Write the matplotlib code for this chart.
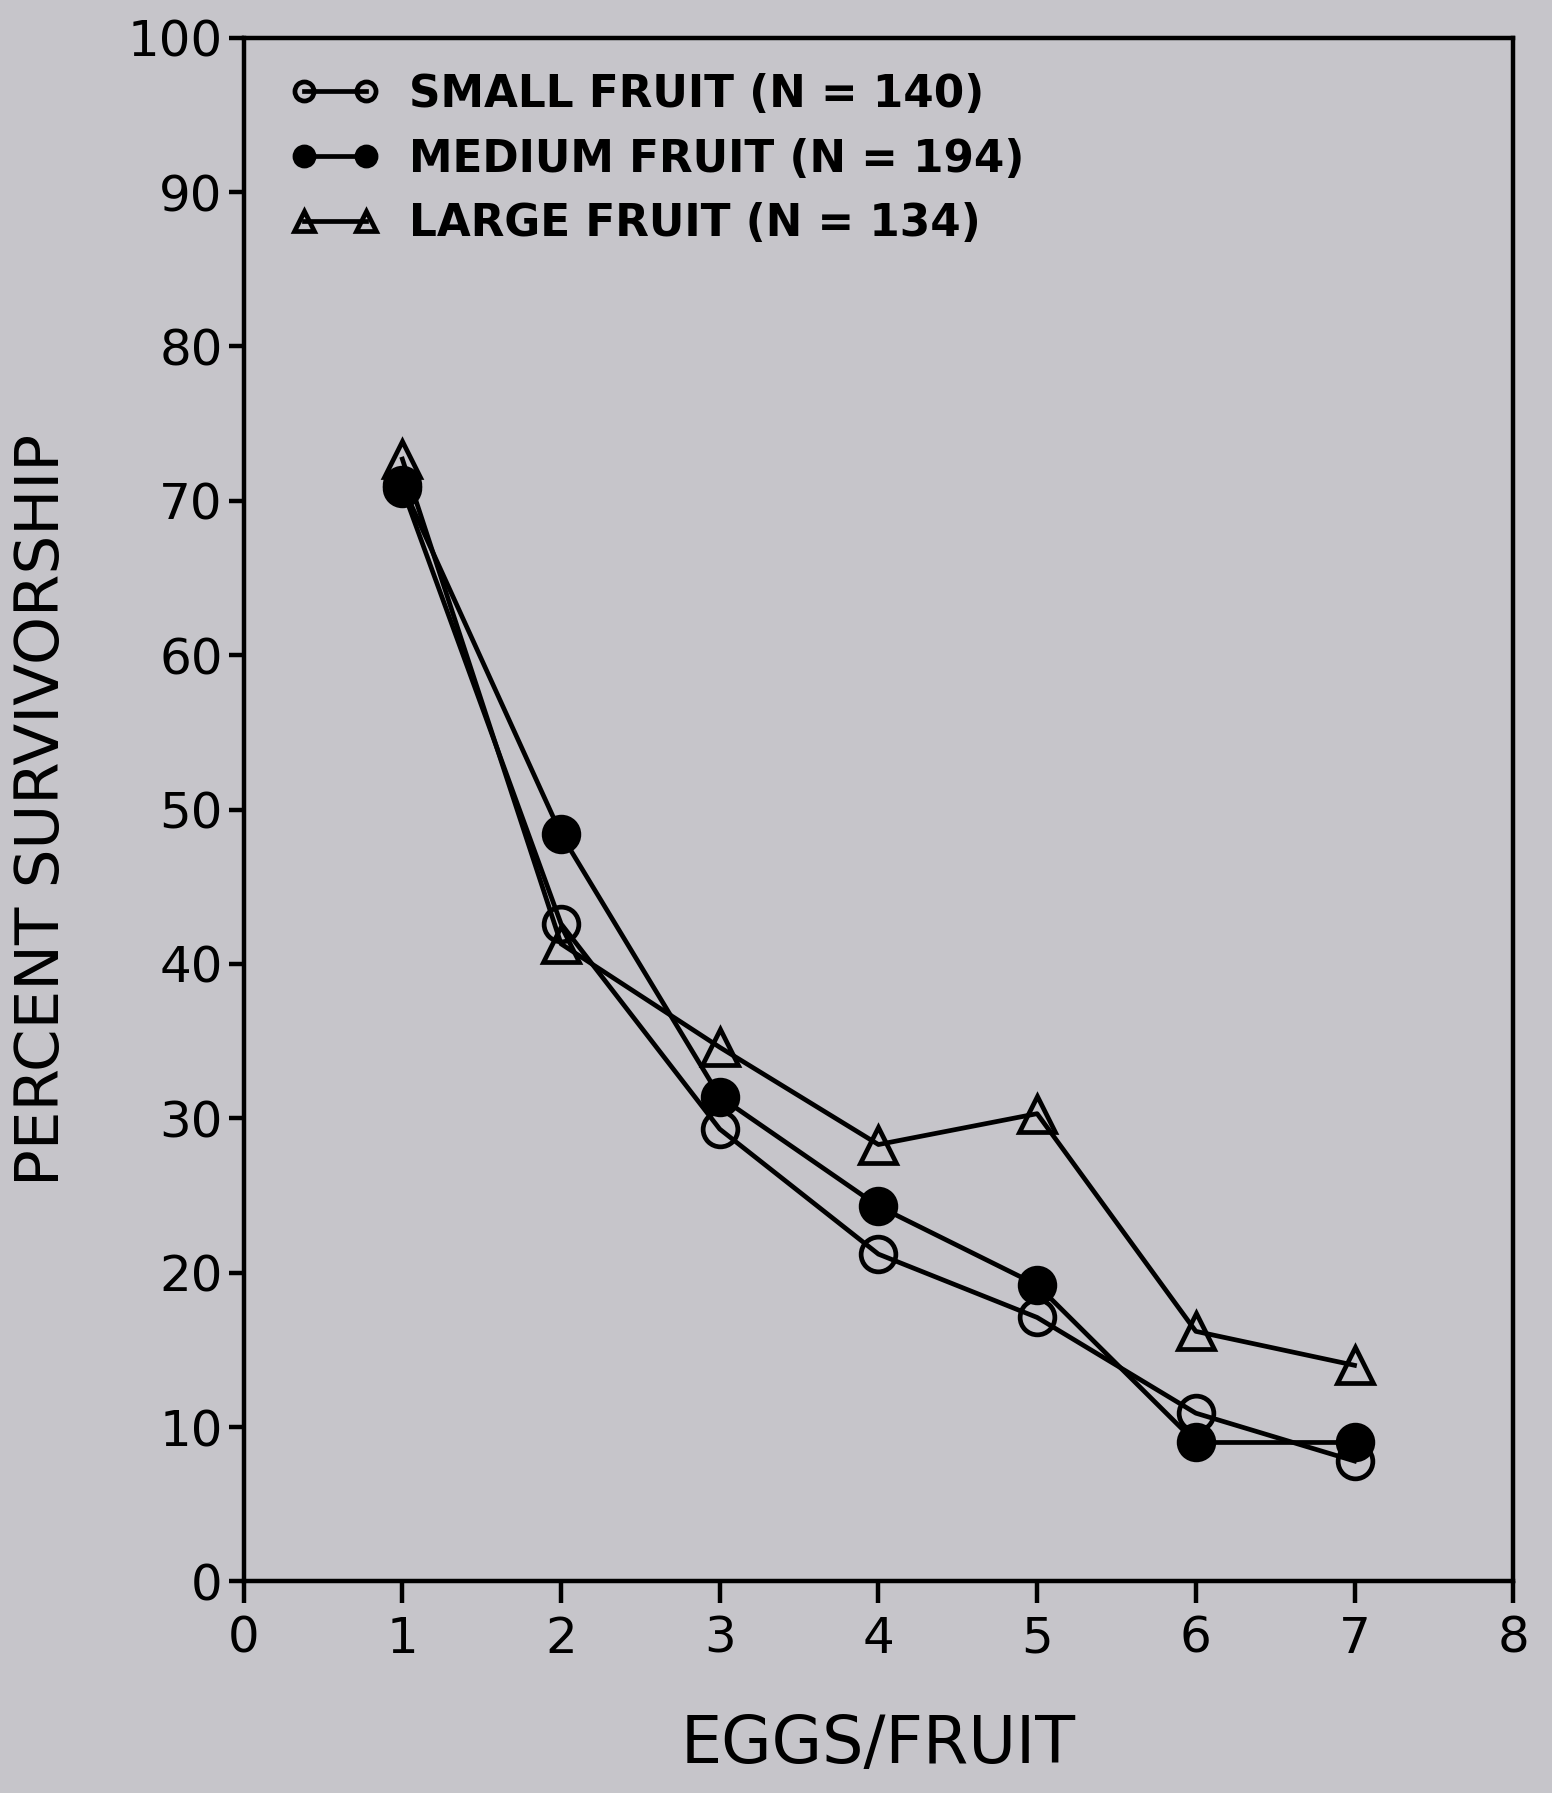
import matplotlib
matplotlib.use('Agg')
import matplotlib.pyplot as plt

eggs = [1, 2, 3, 4, 5, 6, 7]
small = [70.8, 42.6, 29.3, 21.2, 17.1, 10.9, 7.8]
medium = [71.0, 48.4, 31.4, 24.3, 19.2, 9.0, 9.0]
large = [72.7, 41.3, 34.6, 28.3, 30.3, 16.2, 14.0]
labels = ['SMALL FRUIT (N = 140)', 'MEDIUM FRUIT (N = 194)', 'LARGE FRUIT (N = 134)']

bg = '#c6c5ca'
plt.rcParams['font.family'] = 'DejaVu Sans'

fig = plt.figure(figsize=(15.52, 17.93), dpi=100, facecolor=bg)
ax = fig.add_axes([0.157, 0.118, 0.818, 0.861], facecolor=bg)

lw = 3.4
ax.plot(eggs, small, color='black', lw=lw, marker='o', ms=25, mfc='none', mec='black', mew=3.4, label=labels[0])
ax.plot(eggs, medium, color='black', lw=lw, marker='o', ms=25, mfc='black', mec='black', mew=3.4, label=labels[1])
ax.plot(eggs, large, color='black', lw=lw, marker='^', ms=26, mfc='none', mec='black', mew=3.4, label=labels[2])

ax.set_xlim(0, 8)
ax.set_ylim(0, 100)
ax.set_xticks(range(0, 9))
ax.set_yticks(range(0, 101, 10))
for s in ax.spines.values():
    s.set_linewidth(3.2)
ax.tick_params(axis='y', direction='out', length=11, width=3.2, labelsize=36, pad=4)
ax.tick_params(axis='x', direction='out', length=16, width=3.2, labelsize=36, pad=8)

ax.set_xlabel('EGGS/FRUIT', fontsize=47, labelpad=36)
ax.set_ylabel('PERCENT SURVIVORSHIP', fontsize=44, labelpad=40)

leg = ax.legend(loc='upper left', frameon=False, markerscale=0.55,
                prop={'size': 31.5, 'weight': 'bold'},
                numpoints=2, handlelength=2.0, handletextpad=0.7, labelspacing=0.5,
                borderaxespad=0.4, bbox_to_anchor=(0.01, 1.0))

fig.savefig('out.png', dpi=100, facecolor=bg)
